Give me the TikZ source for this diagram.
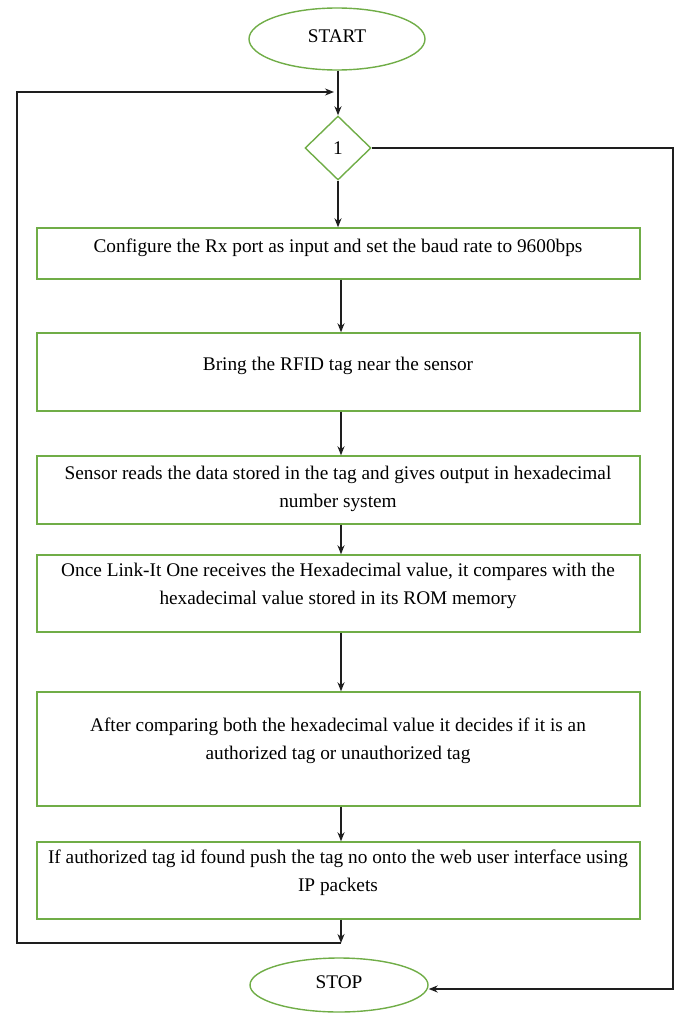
\documentclass[tikz,border=0pt]{standalone}
\usepackage{fontspec}
\setmainfont{Liberation Serif}
\usetikzlibrary{shapes.geometric,arrows.meta}
\definecolor{boxgreen}{RGB}{112,173,71}
\definecolor{linegray}{RGB}{30,30,30}
\tikzset{
  box/.style={draw=boxgreen,line width=1.4pt,rectangle,inner sep=0pt},
  term/.style={draw=boxgreen,line width=1.4pt,ellipse,inner sep=0pt},
  dec/.style={draw=boxgreen,line width=1.4pt,diamond,inner sep=0pt,minimum width=66pt,minimum height=64pt},
  txt/.style={align=center,font=\fontsize{19.3}{28}\selectfont,inner sep=0pt},
  conn/.style={line width=1.5pt,linegray},
  arr/.style={conn,-{Stealth[length=9pt,width=7pt]}}
}
\begin{document}
\begin{tikzpicture}[x=1pt,y=-1pt]
\useasboundingbox (0,0) rectangle (680,1017);
\node[term,minimum width=176pt,minimum height=62pt] (start) at (337,39) {};
\node[txt] (tstart) at (337,36) {START};
\node[dec] (d1) at (338,148) {};
\node[txt] (td1) at (d1.center) {1};
\node[box,minimum width=603pt,minimum height=51pt] (b1) at (338.5,253.5) {};
\node[txt] (t1) at (338,248) {Configure the Rx port as input and set the baud rate to 9600bps};
\node[box,minimum width=603pt,minimum height=78pt] (b2) at (338.5,372) {};
\node[txt] (t2) at (338,366) {Bring the RFID tag near the sensor};
\node[box,minimum width=603pt,minimum height=68pt] (b3) at (338.5,490) {};
\node[txt] (t3) at (338,489) {Sensor reads the data stored in the tag and gives output in hexadecimal\\number system};
\node[box,minimum width=603pt,minimum height=77pt] (b4) at (338.5,593.5) {};
\node[txt] (t4) at (338,586) {Once Link-It One receives the Hexadecimal value, it compares with the\\hexadecimal value stored in its ROM memory};
\node[box,minimum width=603pt,minimum height=114pt] (b5) at (338.5,749) {};
\node[txt] (t5) at (338,741) {After comparing both the hexadecimal value it decides if it is an\\authorized tag or unauthorized tag};
\node[box,minimum width=603pt,minimum height=77pt] (b6) at (338.5,880.5) {};
\node[txt] (t6) at (338,873) {If authorized tag id found push the tag no onto the web user interface using\\IP packets};
\node[term,minimum width=178pt,minimum height=54pt] (stop) at (339,985) {};
\node[txt] (tstop) at (339,982) {STOP};
\coordinate (lb) at (341,943);
\coordinate (ll) at (17,943);
\coordinate (lt) at (17,92);
\coordinate (la) at (334,92);
\coordinate (rt) at (673,148);
\coordinate (rb) at (673,989);
\draw[arr] (start.south -| d1.north) -- (d1.north);
\draw[arr] (d1.south) -- (d1.south |- b1.north);
\draw[arr] (b1.south -| 341,0) -- (b2.north -| 341,0);
\draw[arr] (b2.south -| 341,0) -- (b3.north -| 341,0);
\draw[arr] (b3.south -| 341,0) -- (b4.north -| 341,0);
\draw[arr] (b4.south -| 341,0) -- (b5.north -| 341,0);
\draw[arr] (b5.south -| 341,0) -- (b6.north -| 341,0);
\draw[arr] (b6.south -| lb) -- (lb);
\draw[arr] (lb) -- (ll) -- (lt) -- (la);
\draw[arr] (d1.east) -- (rt) -- (rb) -- (stop.east |- rb);
\end{tikzpicture}
\end{document}
